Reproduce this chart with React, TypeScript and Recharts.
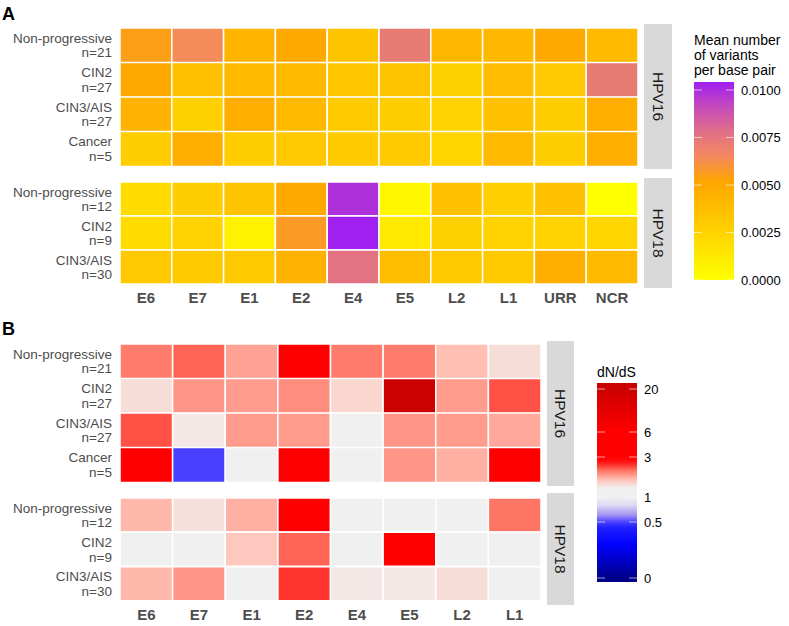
import { BarChart, Bar, XAxis, YAxis, Cell } from 'recharts';

// row labels (group, n)
const rows16 = [
  ['Non-progressive', 'n=21'],
  ['CIN2', 'n=27'],
  ['CIN3/AIS', 'n=27'],
  ['Cancer', 'n=5'],
];
const rows18 = [
  ['Non-progressive', 'n=12'],
  ['CIN2', 'n=9'],
  ['CIN3/AIS', 'n=30'],
];

const genesA = ['E6', 'E7', 'E1', 'E2', 'E4', 'E5', 'L2', 'L1', 'URR', 'NCR'];
const genesB = ['E6', 'E7', 'E1', 'E2', 'E4', 'E5', 'L2', 'L1'];

// panel A: mean number of variants per base pair
const variants16 = [
  [0.0055, 0.0064, 0.0043, 0.0049, 0.0034, 0.0072, 0.0041, 0.0041, 0.0049, 0.004],
  [0.005, 0.0036, 0.004, 0.004, 0.0033, 0.0034, 0.0027, 0.0039, 0.0032, 0.0072],
  [0.0044, 0.0027, 0.0047, 0.004, 0.003, 0.0029, 0.0026, 0.0036, 0.0029, 0.0047],
  [0.0029, 0.0047, 0.0029, 0.0032, 0.003, 0.003, 0.0024, 0.004, 0.0029, 0.0047],
];
const variants18 = [
  [0.002, 0.0029, 0.0034, 0.0049, 0.0099, 0.0005, 0.0036, 0.0028, 0.0036, 0.0],
  [0.002, 0.0026, 0.0008, 0.0057, 0.0104, 0.0013, 0.0027, 0.0026, 0.0026, 0.0024],
  [0.0032, 0.0031, 0.0031, 0.0044, 0.0076, 0.0038, 0.0031, 0.0031, 0.0047, 0.004],
];

// panel B: dN/dS
const dnds16 = [
  [2.28, 2.4, 2.06, 5, 2.28, 2.28, 1.88, 1.62],
  [1.62, 2.13, 2.09, 2.18, 1.69, 20, 2.09, 2.48],
  [2.48, 1.52, 2.09, 2.09, 1, 2.13, 2.09, 2.02],
  [5.5, 0.5, 1, 5, 1, 2.13, 1.97, 5],
];
const dnds18 = [
  [1.92, 1.6, 1.97, 5, 1, 1, 1, 2.32],
  [1, 1, 1.81, 2.4, 1, 5, 1, 1],
  [1.92, 2.13, 1, 2.6, 1.52, 1.52, 1.62, 1],
];

const ticksA = [0, 0.0025, 0.005, 0.0075, 0.01];
const ticksB = [0, 0.5, 1, 3, 6, 20];

const stopsA: [number, string][] = [
  [0, '#FFFF00'], [0.0026, '#FFD200'], [0.0052, '#FFA500'], [0.0065, '#F4895F'],
  [0.0078, '#E06F88'], [0.0091, '#C54CBB'], [0.0104, '#A020F0'],
];
const stopsB: [number, string][] = [
  [0, '#00008B'], [0.3, '#0000FF'], [0.45, '#2020FF'], [0.55, '#7060FF'], [0.65, '#A898F2'],
  [0.85, '#E0DDF3'], [1, '#F0F0F0'], [1.45, '#F0F0F0'], [1.85, '#FFC4B8'], [2.35, '#FF7060'],
  [2.75, '#FF1010'], [3, '#FF0000'], [6, '#FF0000'], [20, '#CC0000'], [22, '#C80000'],
];

const hex = (c: string) => [1, 3, 5].map((i) => parseInt(c.slice(i, i + 2), 16));
function ramp(stops: [number, string][], v: number) {
  if (v <= stops[0][0]) return stops[0][1];
  for (let i = 1; i < stops.length; i++) {
    if (v <= stops[i][0]) {
      const t = (v - stops[i - 1][0]) / (stops[i][0] - stops[i - 1][0]);
      const a = hex(stops[i - 1][1]);
      const b = hex(stops[i][1]);
      return `rgb(${a.map((x, k) => Math.round(x + (b[k] - x) * t)).join(',')})`;
    }
  }
  return stops[stops.length - 1][1];
}
const colorA = (v: number) => ramp(stopsA, v);
const colorB = (v: number) => ramp(stopsB, v);

// legend B position scale (value -> y px), piecewise between breaks
const posB: [number, number][] = [[0, 578], [0.5, 522], [1, 497], [3, 457], [6, 432], [20, 389], [22, 383]];
function valueAtB(y: number) {
  if (y >= posB[0][1]) return 0;
  for (let i = 1; i < posB.length; i++) {
    if (y >= posB[i][1]) {
      const t = (posB[i - 1][1] - y) / (posB[i - 1][1] - posB[i][1]);
      return posB[i - 1][0] + t * (posB[i][0] - posB[i - 1][0]);
    }
  }
  return 22;
}
const yB = (v: number) => posB.find((p) => p[0] === v)![1];
const yA = (v: number) => 280 - (v / 0.0025) * 47.5;

const AXIS_GREY = '#4D4D4D';

function RowTick(props: any) {
  const { x, y, payload } = props;
  const [l1, l2] = String(payload.value).split('|');
  return (
    <text x={x} y={y} textAnchor="end" fill={AXIS_GREY} fontSize={13.5}>
      <tspan x={x} dy={-2.5}>{l1}</tspan>
      <tspan x={x} dy={14.5}>{l2}</tspan>
    </text>
  );
}

function Heatmap({ rows, genes, values, color, top, width, height, showX }: any) {
  const data = rows.map((r: string[]) => {
    const o: any = { label: r.join('|') };
    genes.forEach((g: string) => (o[g] = 1));
    return o;
  });
  const xh = showX ? 30 : 0;
  return (
    <div style={{ position: 'absolute', left: 0, top }}>
      <BarChart
        width={120 + width}
        height={height + xh}
        data={data}
        layout="vertical"
        margin={{ top: 0, right: 0, bottom: 0, left: 0 }}
        barCategoryGap={0}
      >
        <XAxis
          type="number"
          domain={[0, genes.length]}
          ticks={genes.map((_: string, i: number) => i + 0.5)}
          tickFormatter={(v: number) => genes[Math.floor(v)]}
          hide={!showX}
          height={xh}
          axisLine={false}
          tickLine={false}
          interval={0}
          tick={{ fill: AXIS_GREY, fontSize: 15, fontWeight: 'bold' }}
        />
        <YAxis type="category" dataKey="label" width={120} axisLine={false} tickLine={false} interval={0} tick={<RowTick />} />
        {genes.map((g: string, j: number) => (
          <Bar key={g} dataKey={g} stackId="s" isAnimationActive={false} stroke="#FFFFFF" strokeWidth={1.5}>
            {values.map((row: number[], i: number) => (
              <Cell key={i} fill={color(row[j])} />
            ))}
          </Bar>
        ))}
      </BarChart>
    </div>
  );
}

function Strip({ x, y, w, h, label }: any) {
  return (
    <g>
      <rect x={x} y={y} width={w} height={h} fill="#D9D9D9" />
      <text
        x={x + w / 2}
        y={y + h / 2}
        transform={`rotate(90 ${x + w / 2} ${y + h / 2})`}
        textAnchor="middle"
        dominantBaseline="central"
        fontSize={15.5}
        fill="#1A1A1A"
      >
        {label}
      </text>
    </g>
  );
}

export default function App() {
  const n = 60;
  const gradA = Array.from({ length: n }, (_, i) => {
    const off = i / (n - 1);
    const y = 82 + off * 198;
    return { off, c: colorA(((280 - y) / 47.5) * 0.0025) };
  });
  const gradB = Array.from({ length: n }, (_, i) => {
    const off = i / (n - 1);
    const y = 383 + off * 199;
    return { off, c: colorB(valueAtB(y)) };
  });

  return (
    <div
      style={{
        position: 'absolute',
        left: 0,
        top: 0,
        width: 789,
        height: 626,
        background: '#FFFFFF',
        fontFamily: '"Liberation Sans", Arial, sans-serif',
      }}
    >
      <Heatmap rows={rows16} genes={genesA} values={variants16} color={colorA} top={28} width={518} height={138} showX={false} />
      <Heatmap rows={rows18} genes={genesA} values={variants18} color={colorA} top={182} width={518} height={102} showX />
      <Heatmap rows={rows16} genes={genesB} values={dnds16} color={colorB} top={344} width={421} height={138} showX={false} />
      <Heatmap rows={rows18} genes={genesB} values={dnds18} color={colorB} top={498} width={421} height={103} showX />

      <svg width={789} height={626} style={{ position: 'absolute', left: 0, top: 0, pointerEvents: 'none' }}>
        <defs>
          <linearGradient id="gradA" x1="0" y1="0" x2="0" y2="1">
            {gradA.map((s, i) => (
              <stop key={i} offset={s.off} stopColor={s.c} />
            ))}
          </linearGradient>
          <linearGradient id="gradB" x1="0" y1="0" x2="0" y2="1">
            {gradB.map((s, i) => (
              <stop key={i} offset={s.off} stopColor={s.c} />
            ))}
          </linearGradient>
        </defs>

        <text x={2} y={20} fontSize={18} fontWeight="bold" fill="#000">A</text>
        <text x={2} y={335} fontSize={18} fontWeight="bold" fill="#000">B</text>

        <Strip x={644} y={24} w={28} h={145} label="HPV16" />
        <Strip x={644} y={178} w={28} h={110} label="HPV18" />
        <Strip x={547} y={341} w={27} h={145} label="HPV16" />
        <Strip x={547} y={493} w={27} h={112} label="HPV18" />

        {/* legend A */}
        <text fontSize={14} fill="#000">
          <tspan x={694} y={45}>Mean number</tspan>
          <tspan x={694} y={60}>of variants</tspan>
          <tspan x={694} y={75}>per base pair</tspan>
        </text>
        <rect x={694} y={82} width={40} height={198} fill="url(#gradA)" />
        {ticksA.map((t) => (
          <g key={t}>
            <line x1={694} x2={702} y1={yA(t)} y2={yA(t)} stroke="#FFFFFF" strokeOpacity={0.6} />
            <line x1={726} x2={734} y1={yA(t)} y2={yA(t)} stroke="#FFFFFF" strokeOpacity={0.6} />
            <text x={741} y={yA(t)} dominantBaseline="central" fontSize={13} fill="#000">
              {t.toFixed(4)}
            </text>
          </g>
        ))}

        {/* legend B */}
        <text x={597} y={377} fontSize={14} fill="#000">dN/dS</text>
        <rect x={597} y={383} width={40} height={199} fill="url(#gradB)" />
        {ticksB.map((t) => (
          <g key={t}>
            <line x1={597} x2={605} y1={yB(t)} y2={yB(t)} stroke="#FFFFFF" strokeOpacity={0.6} />
            <line x1={629} x2={637} y1={yB(t)} y2={yB(t)} stroke="#FFFFFF" strokeOpacity={0.6} />
            <text x={644} y={yB(t)} dominantBaseline="central" fontSize={13} fill="#000">
              {t}
            </text>
          </g>
        ))}
      </svg>
    </div>
  );
}
